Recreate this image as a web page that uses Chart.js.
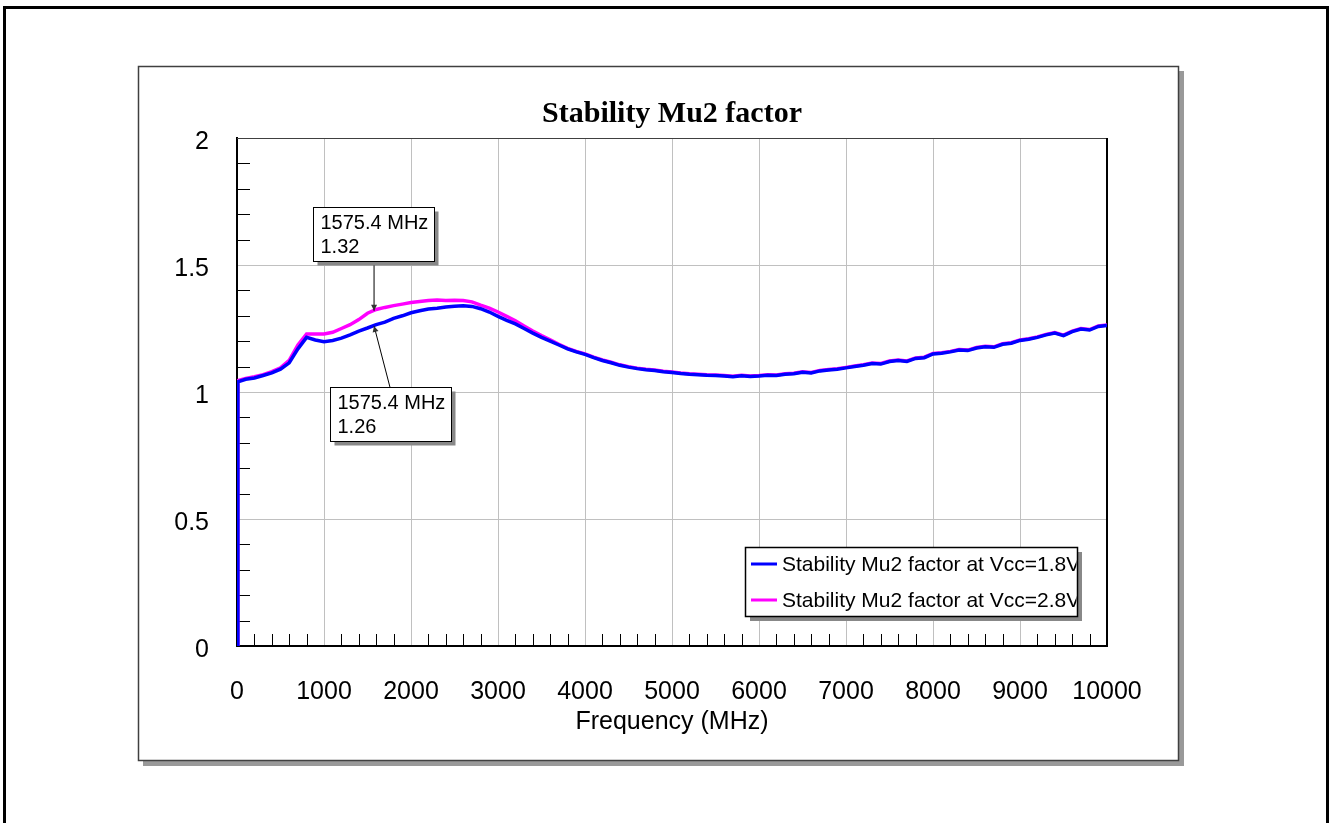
<!DOCTYPE html>
<html><head><meta charset="utf-8">
<script src="https://cdn.jsdelivr.net/npm/chart.js@4.4.1/dist/chart.umd.min.js"></script>
<style>html,body{margin:0;padding:0;background:#fff;overflow:hidden}</style>
</head><body>
<canvas id="c" width="1331" height="823"></canvas>
<script>
const chartTitle = 'Stability Mu2 factor';
const xAxisTitle = 'Frequency (MHz)';
const seriesLabels = ['Stability Mu2 factor at Vcc=1.8V', 'Stability Mu2 factor at Vcc=2.8V'];
const seriesColors = ['#0000ff', '#ff00ff'];

const freqMHz = [0, 10, 100, 200, 300, 400, 500, 600, 700, 800, 900,
  1000, 1100, 1200, 1300, 1400, 1500, 1600, 1700, 1800, 1900,
  2000, 2100, 2200, 2300, 2400, 2500, 2600, 2700, 2800, 2900,
  3000, 3100, 3200, 3300, 3400, 3500, 3600, 3700, 3800, 3900,
  4000, 4100, 4200, 4300, 4400, 4500, 4600, 4700, 4800, 4900,
  5000, 5100, 5200, 5300, 5400, 5500, 5600, 5700, 5800, 5900,
  6000, 6100, 6200, 6300, 6400, 6500, 6600, 6700, 6800, 6900,
  7000, 7100, 7200, 7300, 7400, 7500, 7600, 7700, 7800, 7900,
  8000, 8100, 8200, 8300, 8400, 8500, 8600, 8700, 8800, 8900,
  9000, 9100, 9200, 9300, 9400, 9500, 9600, 9700, 9800, 9900, 10000];

const mu2At18V = [0, 1.04, 1.05, 1.055, 1.065, 1.075, 1.09, 1.115, 1.17, 1.215, 1.205,
  1.198, 1.203, 1.212, 1.225, 1.24, 1.252, 1.265, 1.275, 1.29, 1.30,
  1.312, 1.32, 1.327, 1.33, 1.335, 1.338, 1.34, 1.337, 1.328, 1.315,
  1.298, 1.282, 1.268, 1.25, 1.232, 1.215, 1.2, 1.185, 1.17, 1.158,
  1.148, 1.135, 1.124, 1.115, 1.105, 1.098, 1.092, 1.088, 1.085, 1.08,
  1.077, 1.073, 1.07, 1.068, 1.066, 1.065, 1.063, 1.06, 1.064, 1.061,
  1.063, 1.066, 1.065, 1.07, 1.072, 1.078, 1.075, 1.083, 1.087, 1.09,
  1.095, 1.1, 1.105, 1.112, 1.11, 1.12, 1.124, 1.12, 1.132, 1.135,
  1.15, 1.153, 1.158, 1.165, 1.163, 1.173, 1.178, 1.176, 1.188, 1.192,
  1.203, 1.208, 1.215, 1.225, 1.232, 1.222, 1.238, 1.248, 1.244, 1.258, 1.262];

const mu2At28V = [0, 1.045, 1.053, 1.06, 1.068, 1.08, 1.095, 1.125, 1.185, 1.228, 1.228,
  1.228, 1.235, 1.25, 1.265, 1.285, 1.31, 1.325, 1.333, 1.34, 1.346,
  1.352, 1.356, 1.36, 1.362, 1.36, 1.361, 1.36, 1.355, 1.342, 1.33,
  1.315, 1.298, 1.28, 1.26, 1.24, 1.222, 1.205, 1.188, 1.172, 1.16,
  1.15, 1.137, 1.126, 1.117, 1.107, 1.1, 1.094, 1.09, 1.087, 1.082,
  1.079, 1.075, 1.072, 1.07, 1.068, 1.067, 1.065, 1.062, 1.066, 1.063,
  1.065, 1.068, 1.067, 1.072, 1.074, 1.08, 1.077, 1.085, 1.089, 1.092,
  1.097, 1.102, 1.107, 1.114, 1.112, 1.122, 1.126, 1.122, 1.134, 1.137,
  1.152, 1.155, 1.16, 1.167, 1.165, 1.175, 1.18, 1.178, 1.19, 1.194,
  1.205, 1.21, 1.217, 1.227, 1.234, 1.224, 1.24, 1.25, 1.246, 1.26, 1.264];

// markers (callouts)
const markerFreq = [1575.4, 1575.4];
const markerValue = [1.32, 1.26];

const FONT = 'Arial, "Liberation Sans", sans-serif';

const framePlugin = {
  id: 'frames',
  beforeDraw(chart) {
    const ctx = chart.ctx;
    ctx.save();
    ctx.fillStyle = '#fff';
    ctx.fillRect(0, 0, chart.width, chart.height);
    ctx.strokeStyle = '#000';
    ctx.lineWidth = 3;
    ctx.strokeRect(4.5, 7.5, 1323, 840);
    ctx.fillStyle = '#999';
    ctx.fillRect(143, 71, 1041, 695);
    ctx.fillStyle = '#fff';
    ctx.fillRect(138, 66, 1041, 695);
    ctx.strokeStyle = '#404040';
    ctx.lineWidth = 1.5;
    ctx.strokeRect(138.5, 66.5, 1040, 694);
    ctx.restore();
  }
};

const minorTickPlugin = {
  id: 'minorTicks',
  beforeDatasetsDraw(chart) {
    const {ctx, chartArea: a, scales: {x, y}} = chart;
    ctx.save();
    ctx.strokeStyle = '#000';
    ctx.lineWidth = 1;
    ctx.beginPath();
    for (let v = 200; v < 10000; v += 200) {
      if (v % 1000 === 0) continue;
      const px = Math.round(x.getPixelForValue(v)) + 0.5;
      ctx.moveTo(px, a.bottom); ctx.lineTo(px, a.bottom - 12);
    }
    for (let k = 1; k < 20; k++) {
      if (k % 5 === 0) continue;
      const py = Math.round(y.getPixelForValue(k / 10)) + 0.5;
      ctx.moveTo(a.left, py); ctx.lineTo(a.left + 13, py);
    }
    ctx.stroke();
    ctx.strokeStyle = '#404040';
    ctx.lineWidth = 1;
    ctx.beginPath();
    ctx.moveTo(a.left, a.top + 0.5); ctx.lineTo(a.right, a.top + 0.5);
    ctx.stroke();
    ctx.strokeStyle = '#000';
    ctx.lineWidth = 2;
    ctx.beginPath();
    ctx.moveTo(a.right, a.top); ctx.lineTo(a.right, a.bottom);
    ctx.stroke();
    ctx.restore();
  }
};

const calloutPlugin = {
  id: 'callouts',
  afterDatasetsDraw(chart) {
    const {ctx, scales: {x, y}} = chart;
    const styles = [{dx: -61, dy: -104, lx: 0, top: false}, {dx: -44, dy: 61, lx: 16, top: true}];
    ctx.save();
    markerFreq.forEach((f, i) => {
      const px = x.getPixelForValue(f), py = y.getPixelForValue(markerValue[i]);
      const s = styles[i];
      const bx = Math.round(px + s.dx) + 0.5, by = Math.round(py + s.dy) + 0.5, bw = 121, bh = 54;
      ctx.strokeStyle = '#000'; ctx.lineWidth = 1;
      ctx.beginPath();
      const sx = px + s.lx, sy = s.top ? by : by + bh;
      ctx.moveTo(sx, sy);
      ctx.lineTo(px, py);
      ctx.stroke();
      const ang = Math.atan2(py - sy, px - sx);
      ctx.fillStyle = '#333';
      ctx.beginPath();
      ctx.moveTo(px, py);
      ctx.lineTo(px - 6 * Math.cos(ang) + 3 * Math.sin(ang), py - 6 * Math.sin(ang) - 3 * Math.cos(ang));
      ctx.lineTo(px - 6 * Math.cos(ang) - 3 * Math.sin(ang), py - 6 * Math.sin(ang) + 3 * Math.cos(ang));
      ctx.closePath(); ctx.fill();
      ctx.fillStyle = '#888';
      ctx.fillRect(bx + 4, by + 4, bw, bh);
      ctx.fillStyle = '#fff';
      ctx.fillRect(bx, by, bw, bh);
      ctx.strokeStyle = '#000';
      ctx.strokeRect(bx, by, bw, bh);
      ctx.fillStyle = '#000';
      ctx.font = '20px ' + FONT;
      ctx.textBaseline = 'alphabetic';
      ctx.textAlign = 'left';
      ctx.fillText(f.toFixed(1) + ' MHz', bx + 7, by + 21.5);
      ctx.fillText(markerValue[i].toFixed(2), bx + 7, by + 45);
    });
    ctx.restore();
  },
  afterDraw(chart) {
    const ctx = chart.ctx;
    const L = 745, T = 547, W = 332, H = 69;
    ctx.save();
    ctx.fillStyle = '#888';
    ctx.fillRect(L + 5, T + 5, W, H);
    ctx.fillStyle = '#fff';
    ctx.fillRect(L, T, W, H);
    ctx.strokeStyle = '#000'; ctx.lineWidth = 1.5;
    ctx.strokeRect(L + 0.5, T + 0.5, W, H);
    ctx.beginPath(); ctx.rect(L + 1, T + 1, W - 1.5, H - 1); ctx.clip();
    chart.data.datasets.forEach((ds, i) => {
      const yy = T + 17 + 36 * i;
      ctx.strokeStyle = ds.borderColor; ctx.lineWidth = 3;
      ctx.beginPath(); ctx.moveTo(L + 6, yy); ctx.lineTo(L + 32, yy); ctx.stroke();
      ctx.fillStyle = '#000';
      ctx.font = '21px ' + FONT;
      ctx.textBaseline = 'middle'; ctx.textAlign = 'left';
      ctx.fillText(ds.label, L + 37, yy + 1);
    });
    ctx.restore();
  }
};

const mk = (vals) => freqMHz.map((f, i) => ({x: f, y: vals[i]}));

new Chart(document.getElementById('c'), {
  type: 'line',
  data: {
    datasets: [
      {label: seriesLabels[0], data: mk(mu2At18V), borderColor: seriesColors[0], backgroundColor: seriesColors[0], borderWidth: 3.5, pointRadius: 0, tension: 0, fill: false},
      {label: seriesLabels[1], data: mk(mu2At28V), borderColor: seriesColors[1], backgroundColor: seriesColors[1], borderWidth: 3.5, pointRadius: 0, tension: 0, fill: false}
    ]
  },
  options: {
    responsive: false, animation: false, devicePixelRatio: 1,
    layout: {padding: {left: 0, right: 224, top: 99, bottom: 0}},
    plugins: {
      legend: {display: false}, tooltip: {enabled: false},
      title: {display: true, text: chartTitle, fullSize: false, color: '#000',
        font: {family: '"Times New Roman", "Liberation Serif", serif', size: 30, weight: 'bold', lineHeight: 1},
        padding: {top: 0, bottom: 9}}
    },
    scales: {
      x: {
        type: 'linear', min: 0, max: 10000,
        afterFit: s => { s.height = 177; },
        ticks: {stepSize: 1000, padding: 34, color: '#000', maxRotation: 0, autoSkip: false,
          callback: v => String(v),
          font: {family: FONT, size: 25, lineHeight: 1}},
        grid: {color: '#c0c0c0', lineWidth: 1, drawTicks: false},
        border: {color: '#000', width: 2},
        title: {display: true, text: xAxisTitle, color: '#000', font: {family: FONT, size: 25, lineHeight: 1}, padding: {top: 0, bottom: 88}}
      },
      y: {
        min: 0, max: 2,
        afterFit: s => { s.width = 237; },
        ticks: {stepSize: 0.5, padding: 28, labelOffset: 4, color: '#000', callback: v => String(v),
          font: {family: FONT, size: 25, lineHeight: 1}},
        grid: {color: '#c0c0c0', lineWidth: 1, drawTicks: false},
        border: {color: '#000', width: 2}
      }
    }
  },
  plugins: [framePlugin, minorTickPlugin, calloutPlugin]
});
</script>
</body></html>
